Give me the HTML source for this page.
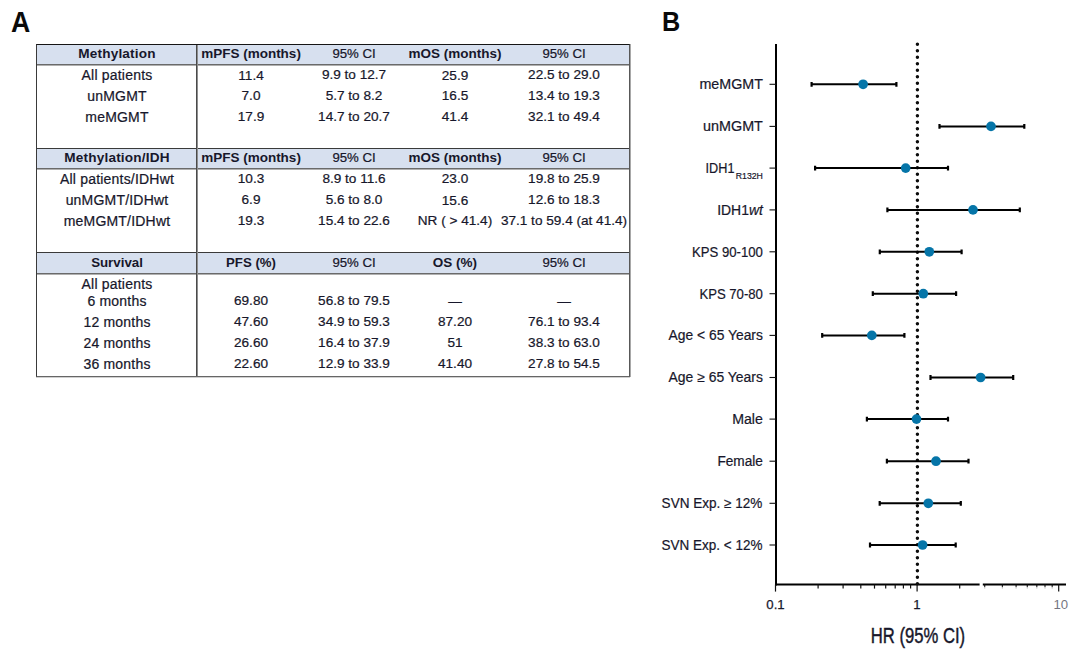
<!DOCTYPE html>
<html>
<head>
<meta charset="utf-8">
<style>
html,body{margin:0;padding:0;background:#fff;}
body{width:1080px;height:658px;position:relative;overflow:hidden;font-family:"Liberation Sans",sans-serif;color:#1a1a1a;}
.lbl{position:absolute;font-weight:bold;font-size:29px;line-height:26px;transform:scaleX(.92);transform-origin:0 0;color:#0a0a0a;}
#tbl{position:absolute;left:36px;top:44px;width:594px;height:333px;border:1px solid #3a3a3a;border-top-color:#151515;border-right-color:#585858;border-bottom-color:#666;box-sizing:border-box;box-shadow:1px 0 0 #a8a8a8,0 1px 0 #d0d0d0;}
.vline{position:absolute;left:159px;top:0;width:1px;height:100%;background:#4a4a4a;border-right:1px solid #8e8e8e;}
.hdr{position:absolute;left:0;width:100%;height:21px;background:#d7e0ef;border-top:1px solid #3a3a3a;border-bottom:1px solid #6a6a6a;box-sizing:border-box;box-shadow:0 1px 0 #b0b0b0;}
.row{position:absolute;left:0;width:100%;height:16px;font-size:14px;line-height:16px;color:#17172b;-webkit-text-stroke:.22px #17172b;}
.row span{position:absolute;top:0;width:170px;text-align:center;white-space:nowrap;}
.c1{left:-5px;letter-spacing:.2px;}
.c1.b{letter-spacing:.18px;font-size:13.6px;}
.c2{left:129px;}
.c3{left:232px;}
.c4{left:333px;}
.c5{left:442px;}
.c2,.c3,.c4,.c5{font-size:13.6px;}
.h3{font-size:13.2px !important;}
.b{font-weight:bold;-webkit-text-stroke:0;}
.c2.b,.c4.b{font-size:13.5px;}
</style>
</head>
<body>
<div class="lbl" style="left:10.9px;top:8.7px;">A</div>
<div class="lbl" style="left:662.4px;top:8.6px;font-size:28px;transform:scaleX(.9);">B</div>

<div id="tbl">
  <div class="hdr" style="top:-1px;border-top-color:#151515;"></div>
  <div class="hdr" style="top:103px;"></div>
  <div class="hdr" style="top:207px;height:22px;"></div>
  <div class="vline"></div>

  <div class="row" style="top:1px;"><span class="c1 b">Methylation</span><span class="c2 b">mPFS (months)</span><span class="c3 h3">95% CI</span><span class="c4 b">mOS (months)</span><span class="c5 h3">95% CI</span></div>
  <div class="row" style="top:22px;"><span class="c1">All patients</span><span class="c2" style="top:1px">11.4</span><span class="c3">9.9 to 12.7</span><span class="c4" style="top:1px">25.9</span><span class="c5">22.5 to 29.0</span></div>
  <div class="row" style="top:43px;"><span class="c1">unMGMT</span><span class="c2">7.0</span><span class="c3">5.7 to 8.2</span><span class="c4">16.5</span><span class="c5">13.4 to 19.3</span></div>
  <div class="row" style="top:63.5px;"><span class="c1">meMGMT</span><span class="c2">17.9</span><span class="c3">14.7 to 20.7</span><span class="c4">41.4</span><span class="c5">32.1 to 49.4</span></div>

  <div class="row" style="top:105.3px;"><span class="c1 b">Methylation/IDH</span><span class="c2 b">mPFS (months)</span><span class="c3 h3">95% CI</span><span class="c4 b">mOS (months)</span><span class="c5 h3">95% CI</span></div>
  <div class="row" style="top:126px;"><span class="c1">All patients/IDHwt</span><span class="c2">10.3</span><span class="c3">8.9 to 11.6</span><span class="c4">23.0</span><span class="c5">19.8 to 25.9</span></div>
  <div class="row" style="top:147px;"><span class="c1">unMGMT/IDHwt</span><span class="c2">6.9</span><span class="c3">5.6 to 8.0</span><span class="c4" style="top:1px">15.6</span><span class="c5">12.6 to 18.3</span></div>
  <div class="row" style="top:167.7px;"><span class="c1">meMGMT/IDHwt</span><span class="c2">19.3</span><span class="c3">15.4 to 22.6</span><span class="c4">NR ( &gt; 41.4)</span><span class="c5">37.1 to 59.4 (at 41.4)</span></div>

  <div class="row" style="top:210px;"><span class="c1 b" style="font-size:13.3px;letter-spacing:0;top:.2px">Survival</span><span class="c2 b" style="font-size:13.2px">PFS (%)</span><span class="c3 h3">95% CI</span><span class="c4 b">OS (%)</span><span class="c5 h3">95% CI</span></div>
  <div class="row" style="top:230.7px;"><span class="c1">All patients</span></div>
  <div class="row" style="top:248px;"><span class="c1">6 months</span><span class="c2">69.80</span><span class="c3">56.8 to 79.5</span><span class="c4" style="top:1px">&mdash;</span><span class="c5" style="top:1px">&mdash;</span></div>
  <div class="row" style="top:269px;"><span class="c1">12 months</span><span class="c2">47.60</span><span class="c3">34.9 to 59.3</span><span class="c4">87.20</span><span class="c5">76.1 to 93.4</span></div>
  <div class="row" style="top:290px;"><span class="c1">24 months</span><span class="c2">26.60</span><span class="c3">16.4 to 37.9</span><span class="c4">51</span><span class="c5">38.3 to 63.0</span></div>
  <div class="row" style="top:310.7px;"><span class="c1">36 months</span><span class="c2">22.60</span><span class="c3">12.9 to 33.9</span><span class="c4">41.40</span><span class="c5">27.8 to 54.5</span></div>
</div>

<svg id="plot" width="440" height="658" viewBox="640 0 440 658" style="position:absolute;left:640px;top:0;">
  <g id="axes" stroke="#000" stroke-width="2" fill="none">
    <line x1="776" y1="44" x2="776" y2="585.6"/>
    <line x1="775" y1="584.6" x2="1066" y2="584.6"/>
  </g>
  <line x1="917.4" y1="44.1" x2="917.4" y2="585" stroke="#0c0c0c" stroke-width="3.4" stroke-linecap="round" stroke-dasharray="0.2 6.3"/>
  <g id="yticks" stroke="#111" stroke-width="1.1">
    <line x1="769.5" y1="84.3" x2="776" y2="84.3"/>
    <line x1="769.5" y1="126.4" x2="776" y2="126.4"/>
    <line x1="769.5" y1="168.1" x2="776" y2="168.1"/>
    <line x1="769.5" y1="209.9" x2="776" y2="209.9"/>
    <line x1="769.5" y1="251.8" x2="776" y2="251.8"/>
    <line x1="769.5" y1="293.7" x2="776" y2="293.7"/>
    <line x1="769.5" y1="335.4" x2="776" y2="335.4"/>
    <line x1="769.5" y1="377.5" x2="776" y2="377.5"/>
    <line x1="769.5" y1="419.1" x2="776" y2="419.1"/>
    <line x1="769.5" y1="461.2" x2="776" y2="461.2"/>
    <line x1="769.5" y1="503.3" x2="776" y2="503.3"/>
    <line x1="769.5" y1="545.0" x2="776" y2="545.0"/>
  </g>
  <g id="ci" stroke="#000" stroke-width="2" fill="none">
    <path d="M811.6 84.3H896.4"/>
    <path d="M939.5 126.4H1024.3"/>
    <path d="M815.1 168.1H948.0"/>
    <path d="M887.4 209.9H1019.8"/>
    <path d="M879.8 251.8H961.6"/>
    <path d="M872.8 293.7H956.1"/>
    <path d="M822.2 335.4H904.4"/>
    <path d="M930.5 377.5H1013.2"/>
    <path d="M866.9 419.1H948.0"/>
    <path d="M886.9 461.2H968.5"/>
    <path d="M879.7 503.3H960.8"/>
    <path d="M870.0 545.0H955.7"/>
  </g>
  <g id="caps" stroke="#000" stroke-width="2.2" fill="none">
    <path d="M811.6 81.9V86.7M896.4 81.9V86.7"/>
    <path d="M939.5 124.0V128.8M1024.3 124.0V128.8"/>
    <path d="M815.1 165.7V170.5M948.0 165.7V170.5"/>
    <path d="M887.4 207.5V212.3M1019.8 207.5V212.3"/>
    <path d="M879.8 249.4V254.2M961.6 249.4V254.2"/>
    <path d="M872.8 291.3V296.1M956.1 291.3V296.1"/>
    <path d="M822.2 333.0V337.8M904.4 333.0V337.8"/>
    <path d="M930.5 375.1V379.9M1013.2 375.1V379.9"/>
    <path d="M866.9 416.7V421.5M948.0 416.7V421.5"/>
    <path d="M886.9 458.8V463.6M968.5 458.8V463.6"/>
    <path d="M879.7 500.9V505.7M960.8 500.9V505.7"/>
    <path d="M870.0 542.6V547.4M955.7 542.6V547.4"/>
  </g>
  <g id="dots" fill="#0575a8">
    <circle cx="863.1" cy="84.3" r="4.85"/>
    <circle cx="991.0" cy="126.4" r="4.85"/>
    <circle cx="905.7" cy="168.1" r="4.85"/>
    <circle cx="973.0" cy="209.9" r="4.85"/>
    <circle cx="929.3" cy="251.8" r="4.85"/>
    <circle cx="923.3" cy="293.7" r="4.85"/>
    <circle cx="871.8" cy="335.4" r="4.85"/>
    <circle cx="980.6" cy="377.5" r="4.85"/>
    <circle cx="916.5" cy="419.1" r="4.85"/>
    <circle cx="936.0" cy="461.2" r="4.85"/>
    <circle cx="928.3" cy="503.3" r="4.85"/>
    <circle cx="922.6" cy="545.0" r="4.85"/>
  </g>
  <g id="ylabels" font-family="Liberation Sans, sans-serif" font-size="13.8" fill="#17172b" stroke="#17172b" stroke-width=".2">
    <text x="699.4" y="89.1" textLength="63.5" lengthAdjust="spacingAndGlyphs">meMGMT</text>
    <text x="703.0" y="131.2" textLength="59.9" lengthAdjust="spacingAndGlyphs">unMGMT</text>
    <text x="705.6" y="172.9" textLength="28.9" lengthAdjust="spacingAndGlyphs">IDH1</text>
    <text x="735.8" y="179.4" font-size="9" textLength="27.1" lengthAdjust="spacingAndGlyphs">R132H</text>
    <text x="717.2" y="214.7" textLength="45.7" lengthAdjust="spacingAndGlyphs">IDH1<tspan font-style="italic">wt</tspan></text>
    <text x="692.1" y="256.6" textLength="70.8" lengthAdjust="spacingAndGlyphs">KPS 90-100</text>
    <text x="699.4" y="298.5" textLength="63.5" lengthAdjust="spacingAndGlyphs">KPS 70-80</text>
    <text x="668.6" y="340.2" textLength="94.3" lengthAdjust="spacingAndGlyphs">Age &lt; 65 Years</text>
    <text x="668.6" y="382.3" textLength="94.3" lengthAdjust="spacingAndGlyphs">Age &#8805; 65 Years</text>
    <text x="732.2" y="423.9" textLength="30.7" lengthAdjust="spacingAndGlyphs">Male</text>
    <text x="717.4" y="466.0" textLength="45.5" lengthAdjust="spacingAndGlyphs">Female</text>
    <text x="661.6" y="508.1" textLength="100.8" lengthAdjust="spacingAndGlyphs">SVN Exp. &#8805; 12%</text>
    <text x="661.6" y="549.8" textLength="100.8" lengthAdjust="spacingAndGlyphs">SVN Exp. &lt; 12%</text>
  </g>
  <g id="xticks" stroke="#111" stroke-width="1.2">
    <line x1="775.5" y1="584.6" x2="775.5" y2="591.6"/>
    <line x1="818.1" y1="584.6" x2="818.1" y2="588.6"/>
    <line x1="843.1" y1="584.6" x2="843.1" y2="588.6"/>
    <line x1="860.8" y1="584.6" x2="860.8" y2="588.6"/>
    <line x1="874.5" y1="584.6" x2="874.5" y2="588.6"/>
    <line x1="885.7" y1="584.6" x2="885.7" y2="588.6"/>
    <line x1="895.2" y1="584.6" x2="895.2" y2="588.6"/>
    <line x1="903.4" y1="584.6" x2="903.4" y2="588.6"/>
    <line x1="910.6" y1="584.6" x2="910.6" y2="588.6"/>
    <line x1="917.1" y1="584.6" x2="917.1" y2="591.6"/>
    <line x1="959.7" y1="584.6" x2="959.7" y2="588.6"/>
    <line x1="984.7" y1="584.6" x2="984.7" y2="588.6"/>
    <line x1="1002.4" y1="584.6" x2="1002.4" y2="588.6"/>
    <line x1="1016.1" y1="584.6" x2="1016.1" y2="588.6"/>
    <line x1="1027.3" y1="584.6" x2="1027.3" y2="588.6"/>
    <line x1="1036.8" y1="584.6" x2="1036.8" y2="588.6"/>
    <line x1="1045.0" y1="584.6" x2="1045.0" y2="588.6"/>
    <line x1="1052.2" y1="584.6" x2="1052.2" y2="588.6"/>
    <line x1="1058.7" y1="584.6" x2="1058.7" y2="591.6"/>
  </g>
  <rect x="979.6" y="582.6" width="3.2" height="4" fill="#fff"/>
  <rect x="983" y="586.8" width="73" height="5" fill="#fff" opacity=".72"/>
  <g id="xlabels" font-family="Liberation Sans, sans-serif" font-size="13.2" fill="#17172b" stroke="#17172b" stroke-width=".25" text-anchor="middle">
    <text x="775.5" y="609.3">0.1</text><text x="917" y="609.3">1</text><text x="1060.8" y="609.3" fill="#3a3a4a" stroke="none" opacity=".7">10</text>
  </g>
  <text x="918" y="642.7" font-family="Liberation Sans, sans-serif" font-size="22" fill="#17172b" stroke="#17172b" stroke-width=".45" text-anchor="middle" transform="translate(918 0) scale(0.757 1) translate(-918 0)">HR (95% CI)</text>
</svg>
</body>
</html>
